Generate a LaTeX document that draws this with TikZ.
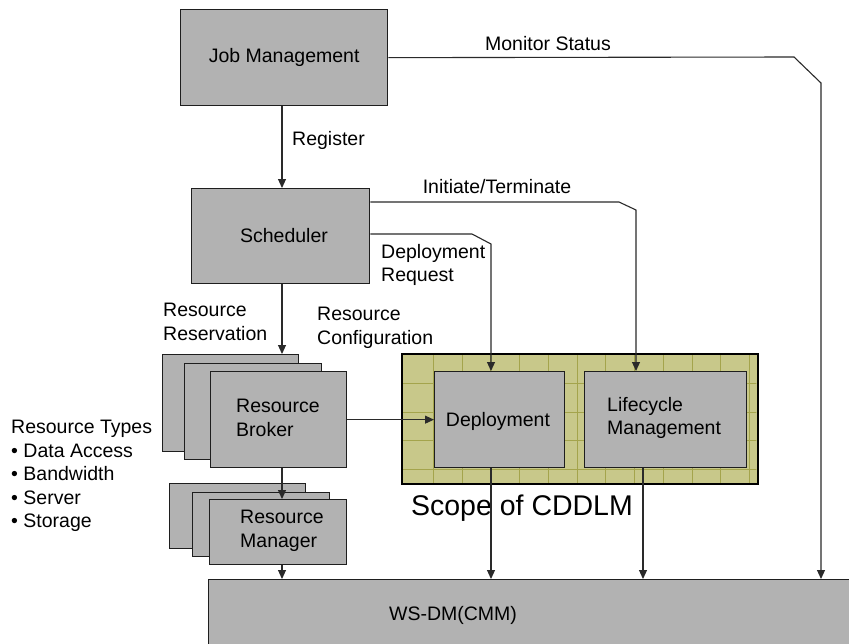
\documentclass[tikz,border=0pt]{standalone}
\usepackage{fontspec}
\setmainfont{Liberation Sans}
\usetikzlibrary{arrows.meta}
\definecolor{boxgray}{HTML}{B2B2B2}
\definecolor{boxline}{HTML}{1E1E1E}
\definecolor{wireclr}{HTML}{2A2A2A}
\definecolor{khaki}{HTML}{C8C88A}
\definecolor{khakigrid}{HTML}{A4A44C}
\tikzset{
  box/.style={draw=boxline, fill=boxgray, line width=1.3pt, rectangle,
    anchor=north west, inner sep=0pt},
  conn/.style={draw=wireclr, line width=1.1pt,
    -{Triangle[length=9pt,width=8pt]}},
  lbl/.style={inner sep=0pt, font=\fontsize{19.5}{23.5}\selectfont, text=black},
}
\begin{document}
\begin{tikzpicture}[x=1pt, y=-1pt]
\clip (0,0) rectangle (849,643);
\useasboundingbox (0,0) rectangle (849,643);

% scope of CDDLM: khaki panel with a faint grid
\node[box, draw=black, fill=khaki, minimum width=355pt, minimum height=129pt] (scope) at (402,354) {};
\begin{scope}
  \clip (402.6,354.6) rectangle (756.4,482.4);
  \foreach \gx in {433,462,490,519,548,577,605,634,663,692,720,749}
    \draw[khakigrid, line width=0.8pt] (\gx,354) -- (\gx,483);
  \foreach \gy in {383,412,440,469}
    \draw[khakigrid, line width=0.8pt] (402,\gy) -- (757,\gy);
\end{scope}
\draw[black, line width=1.3pt] (scope.north west) rectangle (scope.south east);

% main boxes
\node[box, minimum width=207pt, minimum height=96pt] (jm) at (180,9) {};
\node[lbl] at (jm.center) {Job Management};
\node[box, minimum width=178pt, minimum height=95pt] (sch) at (191,188) {};
\node[lbl] at (284,236) {Scheduler};

% resource broker stack
\node[box, minimum width=136pt, minimum height=97pt] (rbback) at (162,354) {};
\node[box, minimum width=137pt, minimum height=96pt] (rbmid) at (184,363) {};
\node[box, minimum width=136pt, minimum height=96pt] (rb) at (210,371) {};
\node[lbl, anchor=west, align=left] at (236,418) {Resource\\Broker};

% resource manager stack
\node[box, minimum width=136pt, minimum height=65pt] (rmback) at (169,483) {};
\node[box, minimum width=137pt, minimum height=64pt] (rmmid) at (192,492) {};
\node[box, minimum width=137pt, minimum height=65pt] (rm) at (209,499) {};
\node[lbl, anchor=west, align=left] at (240,531) {Resource\\Manager};

% CDDLM components
\node[box, minimum width=130pt, minimum height=96pt] (dep) at (434,371) {};
\node[lbl] at (498,421) {Deployment};
\node[box, minimum width=162pt, minimum height=96pt] (lcm) at (584,371) {};
\node[lbl, anchor=west, align=left] at (607,418) {Lifecycle\\Management};
\node[lbl, font=\fontsize{28.5}{32}\selectfont] at (522,508) {Scope of CDDLM};

% base layer
\node[box, minimum width=700pt, minimum height=100pt] (wsdm) at (208,579) {};
\node[lbl] at (453,615) {WS-DM(CMM)};

% bend points
\coordinate (ms1) at (794,57);
\coordinate (ms2) at (821,83);
\coordinate (it1) at (619,202);
\coordinate (it2) at (636,210);
\coordinate (dr1) at (472,234);
\coordinate (dr2) at (491,244);

% connectors
\draw[conn] (jm.east) -- (ms1) -- (ms2) -- (ms2 |- wsdm.north);
\draw[conn] (jm.south -| 282,0) -- (sch.north -| 282,0);
\draw[conn] (sch.east |- it1) -- (it1) -- (it2) -- (it2 |- lcm.north);
\draw[conn] (sch.east |- dr1) -- (dr1) -- (dr2) -- (dr2 |- dep.north);
\draw[conn] (sch.south -| 282,0) -- (rbback.north -| 282,0);
\draw[conn] (rb.east) -- (dep.west |- rb.east);
\draw[conn] (rb.south -| 282,0) -- (rm.north -| 282,0);
\draw[conn] (rm.south -| 282,0) -- (wsdm.north -| 282,0);
\draw[conn] (dep.south -| 491,0) -- (wsdm.north -| 491,0);
\draw[conn] (lcm.south -| 643,0) -- (wsdm.north -| 643,0);

% connector labels
\node[lbl] at (548,44) {Monitor Status};
\node[lbl, anchor=west] at (292,140) {Register};
\node[lbl] at (497,187) {Initiate/Terminate};
\node[lbl, anchor=west, align=left] at (381,265) {Deployment\\Request};
\node[lbl, anchor=west, align=left] at (163,322) {Resource\\Reservation};
\node[lbl, anchor=west, align=left] at (317,328) {Resource\\Configuration};

% resource types list
\node[lbl, anchor=north west, align=left] at (11,420) {Resource Types\\%
\textbullet\ Data Access\\\textbullet\ Bandwidth\\\textbullet\ Server\\\textbullet\ Storage};
\end{tikzpicture}
\end{document}
